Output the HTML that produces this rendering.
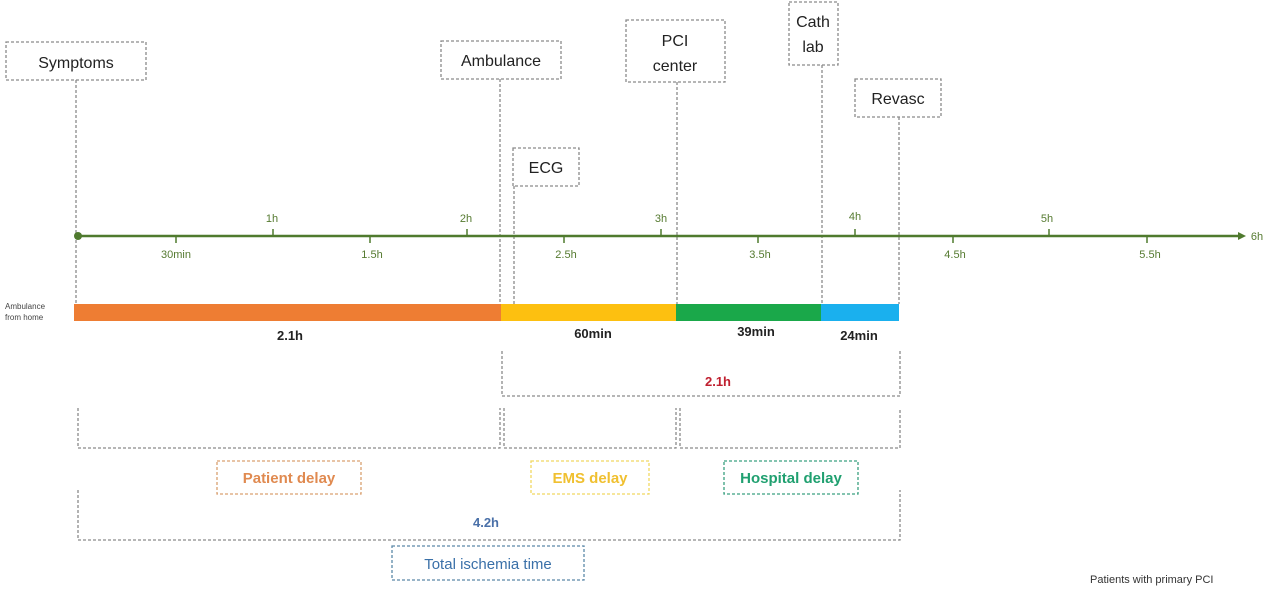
<!DOCTYPE html>
<html><head><meta charset="utf-8"><style>
html,body{margin:0;padding:0;background:#fff;}
svg{display:block;font-family:"Liberation Sans",sans-serif;}
</style></head><body>
<svg width="1280" height="603" viewBox="0 0 1280 603" xmlns="http://www.w3.org/2000/svg">
<g fill="none" stroke="#8a8a8a" stroke-width="1.3" stroke-dasharray="3,2">
  <!-- boxes -->
  <rect x="6" y="42" width="140" height="38"/>
  <rect x="441" y="41" width="120" height="38"/>
  <rect x="513" y="148" width="66" height="38"/>
  <rect x="626" y="20" width="99" height="62"/>
  <rect x="789" y="2" width="49" height="63"/>
  <rect x="855" y="79" width="86" height="38"/>
  <!-- vertical lines -->
  <line x1="76" y1="80" x2="76" y2="304"/>
  <line x1="500" y1="79" x2="500" y2="304"/>
  <line x1="514" y1="186" x2="514" y2="304"/>
  <line x1="677" y1="82" x2="677" y2="304"/>
  <line x1="822" y1="65" x2="822" y2="304"/>
  <line x1="899" y1="117" x2="899" y2="304"/>
  <!-- 2.1h bracket -->
  <polyline points="502,351 502,396 900,396 900,351"/>
  <!-- second row brackets -->
  <polyline points="78,408 78,448 500,448 500,408"/>
  <polyline points="504,408 504,448 676,448 676,408"/>
  <polyline points="680,408 680,448 900,448 900,408"/>
  <!-- total -->
  <polyline points="78,490 78,540 900,540 900,490"/>
</g>
<g fill="none" stroke-width="1.3" stroke-dasharray="3,2">
  <rect x="217" y="461" width="144" height="33" stroke="#d9a070"/>
  <rect x="531" y="461" width="118" height="33" stroke="#f0d860"/>
  <rect x="724" y="461" width="134" height="33" stroke="#3aa080"/>
  <rect x="392" y="546" width="192" height="34" stroke="#5a88a8"/>
</g>
<g font-size="16" fill="#222" text-anchor="middle">
  <text x="76" y="68">Symptoms</text>
  <text x="501" y="66">Ambulance</text>
  <text x="546" y="173">ECG</text>
  <text x="675" y="46">PCI</text>
  <text x="675" y="71">center</text>
  <text x="813" y="27">Cath</text>
  <text x="813" y="52">lab</text>
  <text x="898" y="104">Revasc</text>
</g>
<!-- axis -->
<line x1="78" y1="236" x2="1240" y2="236" stroke="#4f7a2e" stroke-width="2.5"/>
<polygon points="1238,232 1246,236 1238,240" fill="#4f7a2e"/>
<circle cx="78" cy="236" r="4" fill="#4f7a2e"/>
<g stroke="#4f7a2e" stroke-width="1.5">
  <line x1="273" y1="229" x2="273" y2="236"/><line x1="467" y1="229" x2="467" y2="236"/>
  <line x1="661" y1="229" x2="661" y2="236"/><line x1="855" y1="229" x2="855" y2="236"/>
  <line x1="1049" y1="229" x2="1049" y2="236"/>
  <line x1="176" y1="236" x2="176" y2="243"/><line x1="370" y1="236" x2="370" y2="243"/>
  <line x1="564" y1="236" x2="564" y2="243"/><line x1="758" y1="236" x2="758" y2="243"/>
  <line x1="953" y1="236" x2="953" y2="243"/><line x1="1147" y1="236" x2="1147" y2="243"/>
</g>
<g font-size="11" fill="#557a30" text-anchor="middle">
  <text x="272" y="222">1h</text><text x="466" y="222">2h</text><text x="661" y="222">3h</text>
  <text x="855" y="220">4h</text><text x="1047" y="222">5h</text>
  <text x="176" y="258">30min</text><text x="372" y="258">1.5h</text><text x="566" y="258">2.5h</text>
  <text x="760" y="258">3.5h</text><text x="955" y="258">4.5h</text><text x="1150" y="258">5.5h</text>
  <text x="1257" y="240">6h</text>
</g>
<!-- bars -->
<rect x="74" y="304" width="427" height="17" fill="#ee7d33"/>
<rect x="501" y="304" width="175" height="17" fill="#fdc010"/>
<rect x="676" y="304" width="145" height="17" fill="#1aa84a"/>
<rect x="821" y="304" width="78" height="17" fill="#1ab0ee"/>
<g font-size="8" fill="#444"><text x="5" y="309">Ambulance</text><text x="5" y="320">from home</text></g>
<g font-size="13" fill="#222" text-anchor="middle" font-weight="bold">
  <text x="290" y="340">2.1h</text><text x="593" y="338">60min</text>
  <text x="756" y="336">39min</text><text x="859" y="340">24min</text>
</g>
<g font-size="13" font-weight="bold" text-anchor="middle">
  <text x="718" y="386" fill="#c02030">2.1h</text>
  <text x="486" y="527" fill="#4a70a8">4.2h</text>
</g>
<g font-size="15" font-weight="bold" text-anchor="middle">
  <text x="289" y="483" fill="#e08a50">Patient delay</text>
  <text x="590" y="483" fill="#f0c030">EMS delay</text>
  <text x="791" y="483" fill="#20a070">Hospital delay</text>
  <text x="488" y="569" fill="#3a70a8" font-weight="normal">Total ischemia time</text>
</g>
<text x="1090" y="583" font-size="11" fill="#333">Patients with primary PCI</text>
</svg>
</body></html>
